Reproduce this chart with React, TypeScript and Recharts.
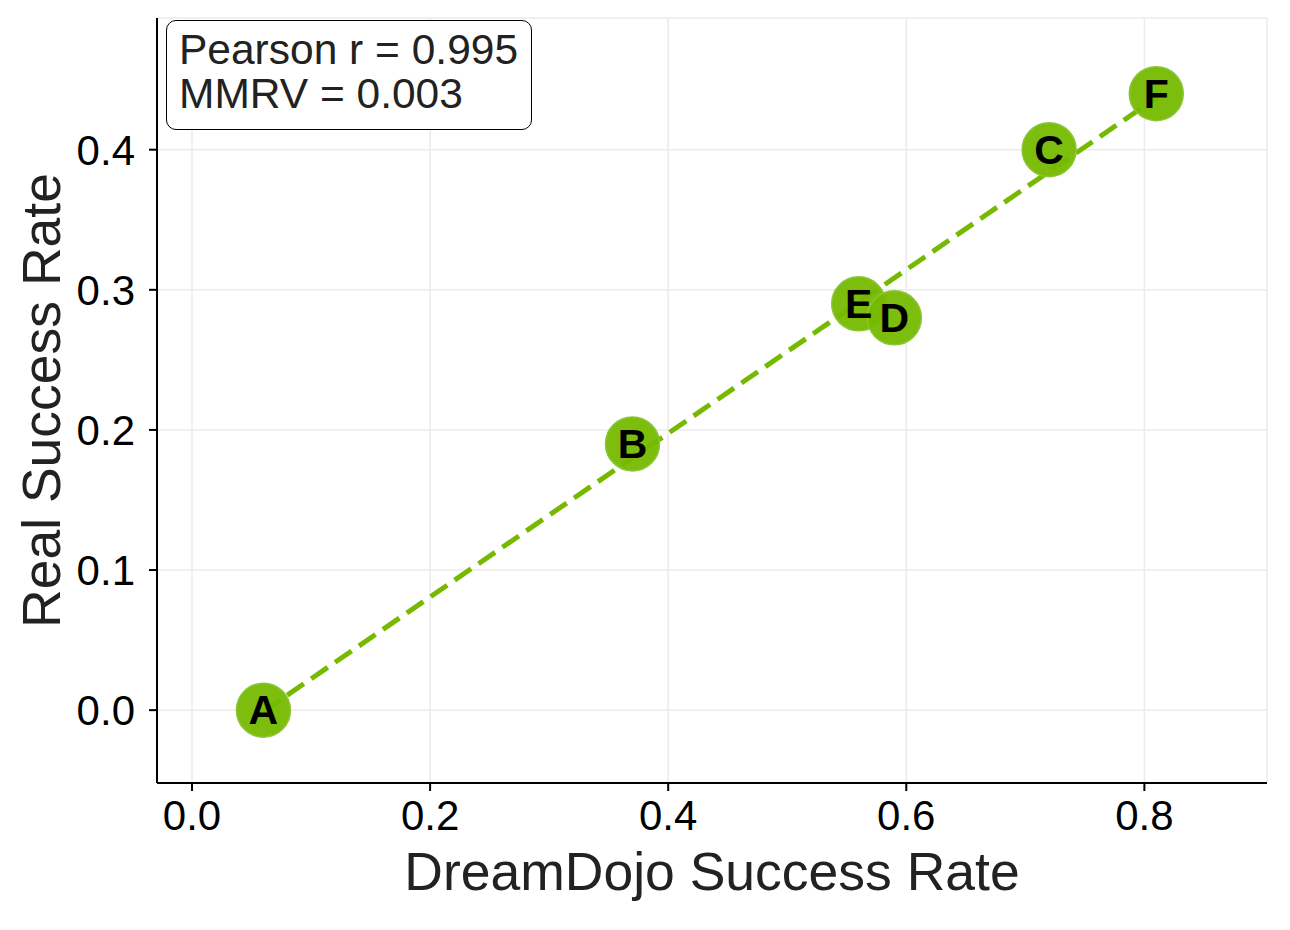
import { ScatterChart, Scatter, XAxis, YAxis, CartesianGrid } from 'recharts'

const names = ['A', 'B', 'E', 'D', 'C', 'F']
const dreamDojo = [0.06, 0.37, 0.56, 0.59, 0.72, 0.81]
const real = [0.0, 0.19, 0.29, 0.28, 0.4, 0.44]

// fitted line at its two ends
const fitX = [0.06, 0.81]
const fitY = [-0.001, 0.437]

const xTicks = [0, 0.2, 0.4, 0.6, 0.8]
const yTicks = [0, 0.1, 0.2, 0.3, 0.4]
const xDomain = [-0.0294, 0.903]
const yDomain = [-0.052, 0.494]

const stats = ['Pearson r = 0.995', 'MMRV = 0.003']

const points = names.map((n, i) => ({ name: n, x: dreamDojo[i], y: real[i] }))
const fit = fitX.map((x, i) => ({ x, y: fitY[i] }))

const FONT = '"Liberation Sans", Arial, sans-serif'
const GREEN = '#76b900'

const Dot = (p: any) => (
  <circle cx={p.cx} cy={p.cy} r={27} fill={GREEN} fillOpacity={0.95} stroke="#8bc53a" strokeWidth={1.5} />
)

const Letter = (p: any) => (
  <text
    x={p.cx}
    y={p.cy}
    textAnchor="middle"
    dominantBaseline="central"
    fontFamily={FONT}
    fontWeight="bold"
    fontSize={41}
    fill="#000"
  >
    {p.payload.name}
  </text>
)

const XLabel = (p: any) => {
  const vb = p.viewBox
  return (
    <text x={vb.x + vb.width / 2} y={vb.y + 107} textAnchor="middle" fontFamily={FONT} fontSize={53.5} fill="#222">
      DreamDojo Success Rate
    </text>
  )
}

const YLabel = (p: any) => {
  const vb = p.viewBox
  const cx = vb.x + 60
  const cy = vb.y + vb.height / 2
  return (
    <text
      x={cx}
      y={cy}
      transform={`rotate(-90 ${cx} ${cy})`}
      textAnchor="middle"
      fontFamily={FONT}
      fontSize={53.5}
      fill="#222"
    >
      Real Success Rate
    </text>
  )
}

export default function App() {
  return (
    <div style={{ position: 'absolute', left: 0, top: 0, width: 1290, height: 930, background: '#fff' }}>
      <ScatterChart width={1290} height={930} margin={{ top: 18, right: 23, bottom: 0, left: 0 }}>
        <CartesianGrid stroke="#ebebeb" strokeWidth={1.5} />
        <XAxis
          type="number"
          dataKey="x"
          domain={xDomain}
          ticks={xTicks}
          allowDataOverflow
          height={147}
          tickFormatter={(v: number) => v.toFixed(1)}
          tick={{ fill: '#000', fontSize: 42, fontFamily: FONT }}
          tickSize={8}
          tickMargin={9}
          axisLine={{ stroke: '#000', strokeWidth: 2 }}
          tickLine={{ stroke: '#000', strokeWidth: 2 }}
          label={{ content: XLabel }}
        />
        <YAxis
          type="number"
          dataKey="y"
          domain={yDomain}
          ticks={yTicks}
          allowDataOverflow
          width={157}
          tickFormatter={(v: number) => v.toFixed(1)}
          tick={{ fill: '#000', fontSize: 42, fontFamily: FONT }}
          tickSize={8}
          tickMargin={14}
          axisLine={{ stroke: '#000', strokeWidth: 2 }}
          tickLine={{ stroke: '#000', strokeWidth: 2 }}
          label={{ content: YLabel }}
        />
        <Scatter
          data={fit}
          isAnimationActive={false}
          line={{ stroke: GREEN, strokeWidth: 5, strokeDasharray: '20 9' }}
          shape={() => <g />}
        />
        <Scatter data={points} isAnimationActive={false} shape={Dot} />
        <Scatter data={points} isAnimationActive={false} shape={Letter} />
      </ScatterChart>
      <div
        style={{
          position: 'absolute',
          left: 166,
          top: 20,
          width: 366,
          height: 110,
          boxSizing: 'border-box',
          border: '1.5px solid #000',
          borderRadius: 10,
          background: '#fff',
          fontFamily: FONT,
          fontSize: 42.5,
          lineHeight: '44px',
          color: '#222',
          padding: '7px 0 0 12px',
        }}
      >
        {stats.map((s) => (
          <div key={s}>{s}</div>
        ))}
      </div>
    </div>
  )
}
